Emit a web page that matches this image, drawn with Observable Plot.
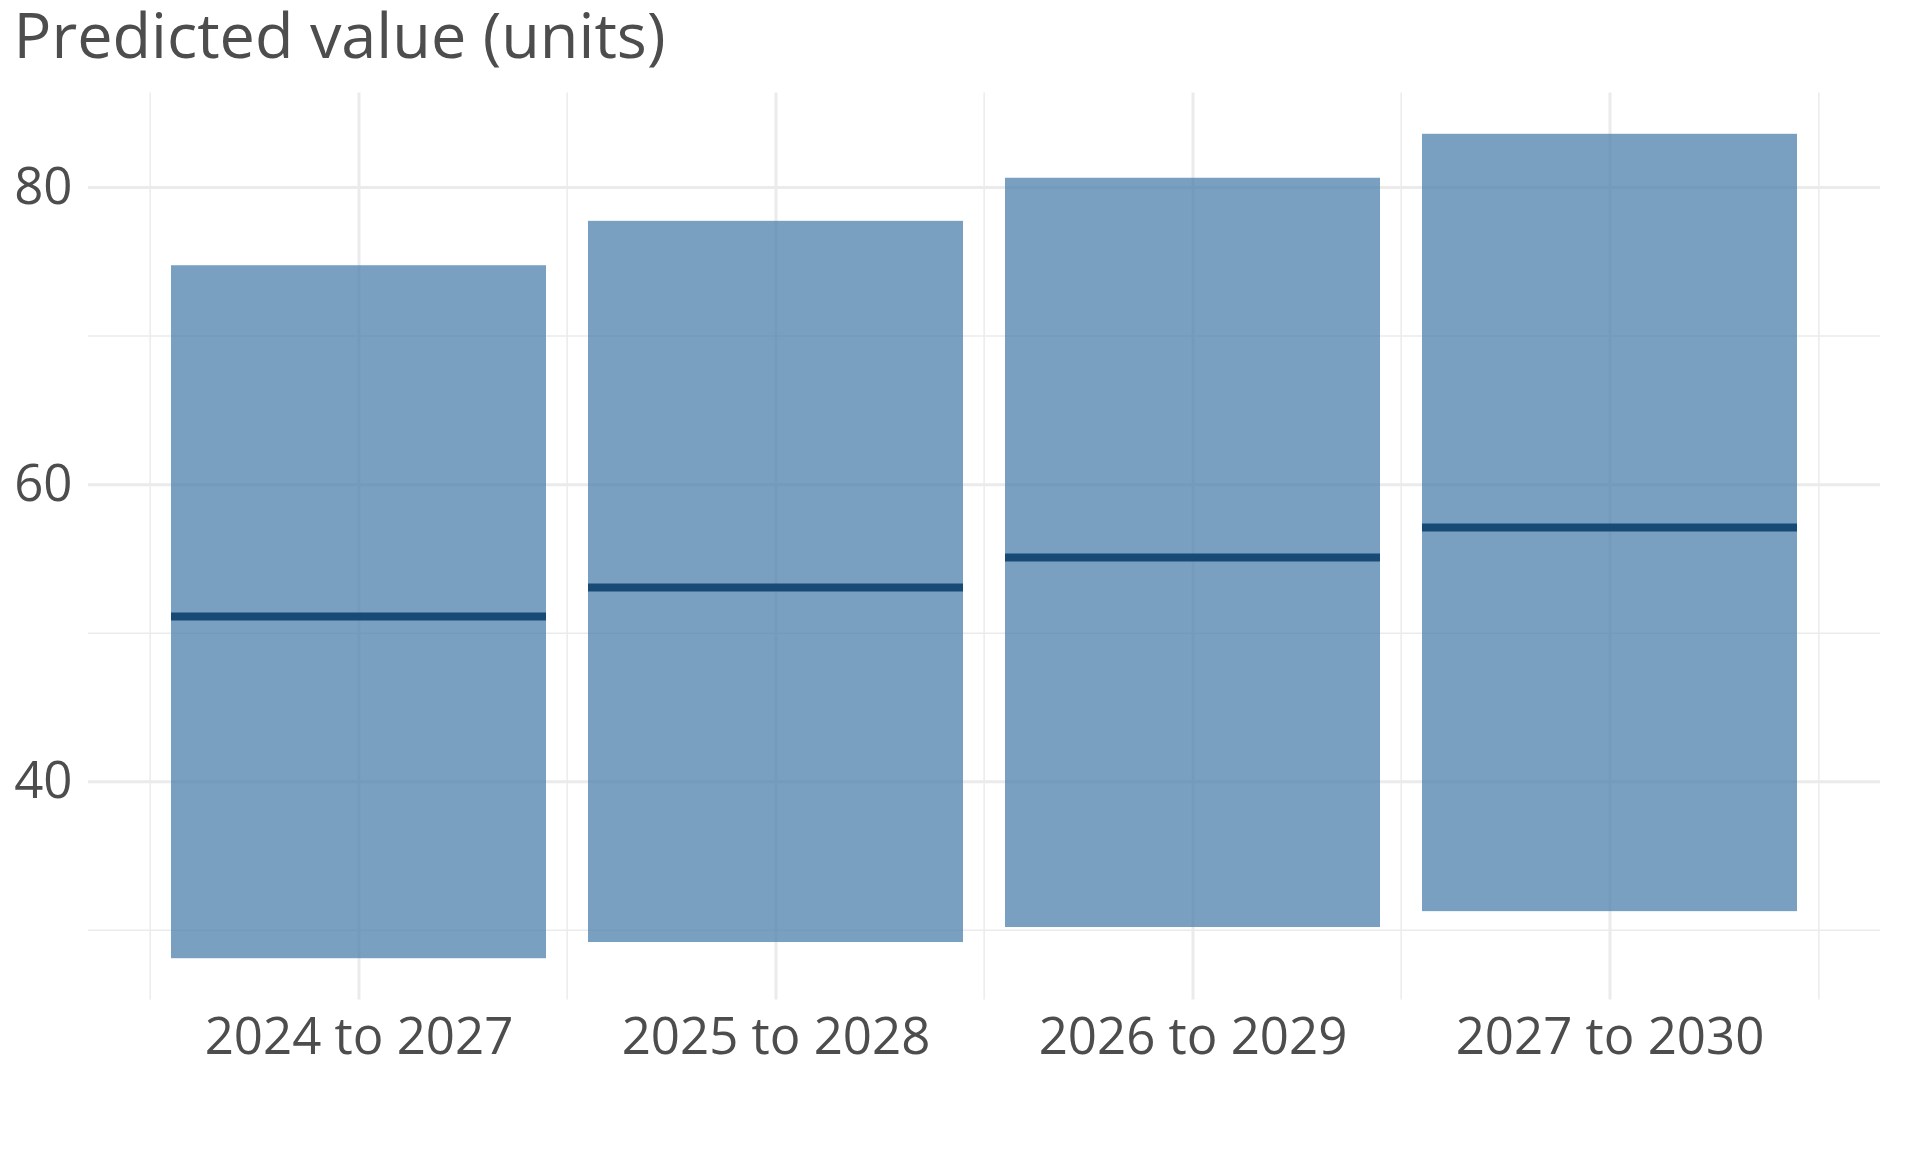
<!DOCTYPE html>
<html>
<head>
<meta charset="utf-8">
<script src="https://cdn.jsdelivr.net/npm/d3@7"></script>
<script src="https://cdn.jsdelivr.net/npm/@observablehq/plot@0.6"></script>
<style>
  html, body { margin: 0; padding: 0; background: #ffffff; }
  #title {
    font-family: "Open Sans", sans-serif;
    font-size: 63px;
    line-height: 63px;
    height: 78px;
    padding-top: 2px;
    padding-left: 13.5px;
    color: #4d4d4d;
    white-space: nowrap;
  }
  #chart svg { display: block; }
</style>
</head>
<body>
<div id="title">Predicted value (units)</div>
<div id="chart"></div>
<script>
const categories = ["2024 to 2027", "2025 to 2028", "2026 to 2029", "2027 to 2030"];
const lower  = [28.08, 29.17, 30.18, 31.25];
const median = [51.12, 53.08, 55.10, 57.12];
const upper  = [74.74, 77.73, 80.63, 83.59];
const yMajorTicks = [40, 60, 80];
const yMinorTicks = [30, 50, 70];

const rows = categories.map((c, i) => ({period: c, lower: lower[i], median: median[i], upper: upper[i]}));

const W = 1920, H = 1072;
const mL = 88, mR = 40, mT = 12.5, mB = 152.5;
const pInner = 0.1, pOuter = 0.195;
const step = (W - mL - mR) / (categories.length - pInner + 2 * pOuter);
const gridColor = "#ebebeb";
const textColor = "#4d4d4d";

const chart = Plot.plot({
  width: W,
  height: H,
  marginTop: mT,
  marginBottom: mB,
  marginLeft: mL,
  marginRight: mR,
  style: {fontFamily: "Open Sans", background: "#ffffff", color: textColor, overflow: "visible"},
  x: {type: "band", domain: categories, paddingInner: pInner, paddingOuter: pOuter, align: 0.5, label: null},
  y: {domain: [25.30, 86.37], label: null},
  marks: [
    Plot.ruleY(yMinorTicks, {stroke: gridColor, strokeWidth: 1.5}),
    Plot.ruleY(yMajorTicks, {stroke: gridColor, strokeWidth: 3}),
    Plot.ruleX(categories, {x: d => d, dx: -step / 2, stroke: gridColor, strokeWidth: 1.5}),
    Plot.ruleX(categories.slice(-1), {x: d => d, dx: step / 2, stroke: gridColor, strokeWidth: 1.5}),
    Plot.ruleX(categories, {x: d => d, stroke: gridColor, strokeWidth: 3}),
    Plot.barY(rows, {x: "period", y1: "lower", y2: "upper", fill: "#4a7fac", fillOpacity: 0.74}),
    Plot.tickY(rows, {x: "period", y: "median", stroke: "#184a76", strokeWidth: 8}),
    Plot.axisX({tickSize: 0, tickPadding: 18, fontSize: 51, fill: textColor, label: null}),
    Plot.axisY({ticks: yMajorTicks, tickSize: 0, tickPadding: 16, fontSize: 51, fill: textColor, label: null})
  ]
});
document.getElementById("chart").appendChild(chart);
</script>
</body>
</html>
